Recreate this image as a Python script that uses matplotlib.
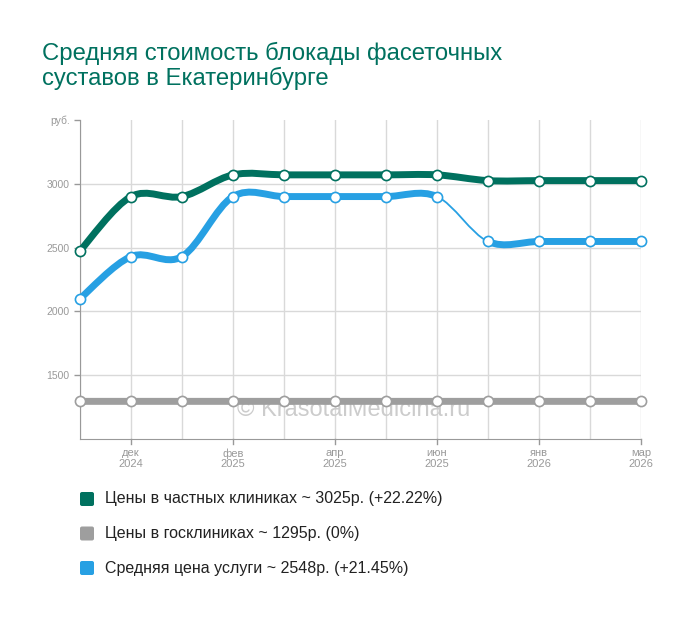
import numpy as np
import matplotlib.pyplot as plt
from matplotlib.path import Path
from matplotlib.patches import PathPatch, FancyBboxPatch

plt.rcParams['font.family'] = ['Liberation Sans', 'DejaVu Sans']

# Данные
months = ['', 'дек\n2024', '', 'фев\n2025', '', 'апр\n2025', '', 'июн\n2025', '', 'янв\n2026', '', 'мар\n2026']
private = [2475, 2900, 2900, 3070, 3070, 3070, 3070, 3070, 3025, 3025, 3025, 3025]
public = [1295] * 12
average = [2100, 2430, 2430, 2900, 2900, 2900, 2900, 2900, 2548, 2548, 2548, 2548]

labels = ['Цены в частных клиниках ~ 3025р. (+22.22%)',
          'Цены в госклиниках ~ 1295р. (0%)',
          'Средняя цена услуги ~ 2548р. (+21.45%)']
colors = ['#00715f', '#9e9e9e', '#27a0e3']
title = 'Средняя стоимость блокады фасеточных\nсуставов в Екатеринбурге'


def smooth_segments(xs, ys):
    # кривая Катмулла-Рома через точки, по одному Безье на отрезок
    p = np.column_stack([xs, ys]).astype(float)
    p = np.vstack([p[0], p, p[-1]])
    segs = []
    for i in range(1, len(p) - 2):
        c1 = p[i] + (p[i + 1] - p[i - 1]) / 6
        c2 = p[i + 1] - (p[i + 2] - p[i]) / 6
        segs.append(Path([p[i], c1, c2, p[i + 1]],
                         [Path.MOVETO, Path.CURVE4, Path.CURVE4, Path.CURVE4]))
    return segs


fig = plt.figure(figsize=(7, 6.17), dpi=100)
ax = fig.add_axes([80 / 700, 1 - 439 / 617, 561 / 700, 319 / 617])

x = np.arange(len(months))
# на отрезке июн -> следующий синяя линия в оригинале тонкая
thin = {'avg': [7]}
for key, ys, c in [('pub', public, colors[1]), ('avg', average, colors[2]),
                   ('priv', private, colors[0])]:
    for j, seg in enumerate(smooth_segments(x, ys)):
        lw = 1.3 if j in thin.get(key, []) else 5
        ax.add_patch(PathPatch(seg, fill=False, edgecolor=c, lw=lw,
                               capstyle='round', zorder=3))
    ax.plot(x, ys, 'o', ms=7.3, mfc='white', mec=c, mew=1.2, zorder=4, clip_on=False)

ax.set_xlim(0, len(months) - 1)
ax.set_ylim(1000, 3500)
ax.set_yticks([1500, 2000, 2500, 3000, 3500])
ax.set_yticklabels(['1500', '2000', '2500', '3000', 'руб.'])
ax.set_xticks(x)
ax.set_xticklabels(months, linespacing=1.1)
ax.tick_params(colors='#999999', labelsize=7.5, length=4, width=1)
ax.tick_params(axis='x', length=0, pad=6.5, labelsize=8)
for i, lab in enumerate(months):
    if lab:
        ax.plot([i, i], [1000, 1000 - 40], color='#999999', lw=1, clip_on=False)

ax.grid(axis='x', color='#d9d9d9', lw=1)
for v in [1500, 2000, 2500, 3000]:
    ax.axhline(v, color='#d9d9d9', lw=1, zorder=0)
for s in ['top', 'right']:
    ax.spines[s].set_visible(False)
ax.spines['left'].set_color('#999999')
ax.spines['bottom'].set_color('#999999')
ax.set_axisbelow(True)

ax.text(0.488, 1 - (410 - 120) / 319, '© KrasotaiMedicina.ru', transform=ax.transAxes,
        fontsize=17, color='#cccccc', ha='center', va='center', zorder=2)

fig.text(42 / 700, 1 - 42 / 617, title, fontsize=17.2, color='#00715f', va='top',
         linespacing=1.1)

for i, (lab, c) in enumerate(zip(labels, colors)):
    yc = 1 - (499 + i * 34.5) / 617
    fig.patches.append(FancyBboxPatch((80 / 700, yc - 7 / 617), 14 / 700, 14 / 617,
                                      boxstyle='round,pad=0,rounding_size=0.003',
                                      transform=fig.transFigure, fc=c, ec='none'))
    fig.text(105 / 700, yc, lab, fontsize=11.5, color='#222222', va='center')

fig.savefig('out.png', dpi=100)
